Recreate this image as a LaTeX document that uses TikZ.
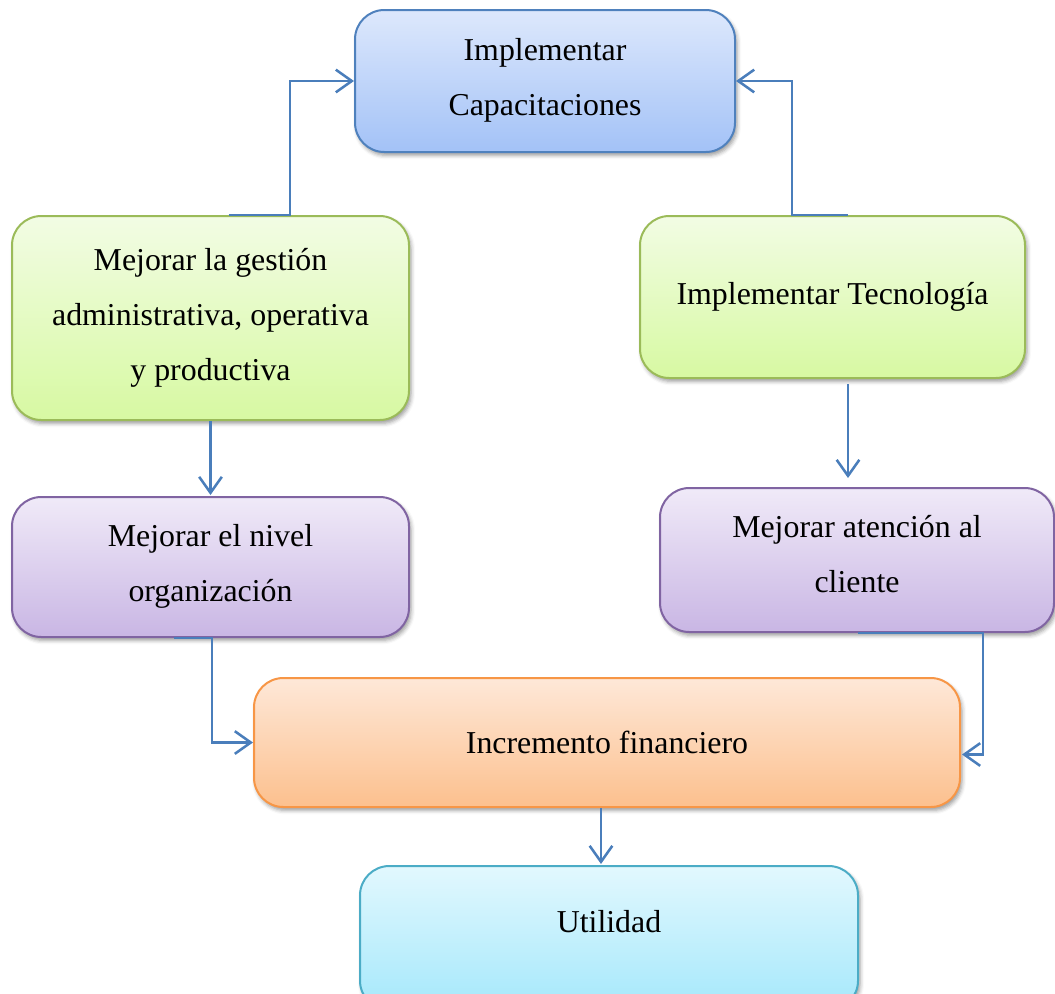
\documentclass[tikz,border=0pt]{standalone}
\usepackage{fontspec}
\setmainfont{Liberation Serif}
\usetikzlibrary{arrows.meta,calc,shadows.blur}

\definecolor{connblue}{HTML}{4A7EBB}
\definecolor{bluetop}{HTML}{DDE8FC}
\definecolor{bluebot}{HTML}{A3C2F7}
\definecolor{blueedge}{HTML}{4F81BD}
\definecolor{greentop}{HTML}{F2FCE4}
\definecolor{greenbot}{HTML}{D7F9A2}
\definecolor{greenedge}{HTML}{9BBB59}
\definecolor{purpletop}{HTML}{F0EAF8}
\definecolor{purplebot}{HTML}{C9B6E4}
\definecolor{purpleedge}{HTML}{8064A2}
\definecolor{orangetop}{HTML}{FEE8D8}
\definecolor{orangebot}{HTML}{FCC08E}
\definecolor{orangeedge}{HTML}{F79646}
\definecolor{cyantop}{HTML}{E2F8FE}
\definecolor{cyanbot}{HTML}{A5E8FB}
\definecolor{cyanedge}{HTML}{4BACC6}

\tikzset{
  box/.style={rounded corners=22pt, line width=1.5pt, inner sep=0pt,
    align=center, font=\fontsize{23.9}{41.25}\selectfont,
    blur shadow={shadow xshift=1.5pt, shadow yshift=-2.5pt,
      shadow blur radius=3pt, shadow opacity=40}},
  bluebox/.style={box, draw=blueedge, top color=bluetop, bottom color=bluebot},
  greenbox/.style={box, draw=greenedge, top color=greentop, bottom color=greenbot},
  purplebox/.style={box, draw=purpleedge, top color=purpletop, bottom color=purplebot},
  orangebox/.style={box, draw=orangeedge, top color=orangetop, bottom color=orangebot},
  cyanbox/.style={box, draw=cyanedge, top color=cyantop, bottom color=cyanbot},
  label text/.style={inner sep=0pt, font=\fontsize{23.9}{41.25}\selectfont},
  conn/.style={draw=connblue, line width=1.9pt,
    -{Straight Barb[length=12pt, width=17pt, line width=1.9pt]}},
}

\begin{document}
\begin{tikzpicture}[x=0.75pt, y=-0.75pt]
\useasboundingbox (0,0) rectangle (1055,993);
\clip (0,0) rectangle (1055,993);

% boxes
\node[bluebox, minimum width=285pt, minimum height=106.5pt, text depth=6pt] (cap) at (545,81)
  {Implementar\\Capacitaciones};
\node[greenbox, minimum width=297.75pt, minimum height=153pt, text depth=6pt] (gl) at (210.5,318)
  {Mejorar la gestión\\administrativa, operativa\\y productiva};
\node[greenbox, minimum width=288.75pt, minimum height=121.5pt] (gr) at (832.5,297)
  {Implementar Tecnología};
\node[purplebox, minimum width=297.75pt, minimum height=105pt, text depth=6pt] (pl) at (210.5,567)
  {Mejorar el nivel\\organización};
\node[purplebox, minimum width=295.5pt, minimum height=108pt, text depth=9pt] (pr) at (857,560)
  {Mejorar atención al\\cliente};
\node[orangebox, minimum width=529.5pt, minimum height=96.75pt] (inc) at (607,742.5)
  {Incremento financiero};
\node[cyanbox, minimum width=373.5pt, minimum height=108pt] (util) at (609,938) {};
\node[label text] (utilT) at (609,922) {Utilidad};

% connectors
\draw[conn] ($(gl.north)+(18,0)$) -| ($(cap.west)+(-64,0)$) -- (cap.west);
\draw[conn] ($(gr.north)+(15.5,0)$) -| ($(cap.east)+(56,0)$) -- (cap.east);
\draw[conn] (gl.south) -- ($(pl.north)+(0,-1)$);
\draw[conn] ($(gr.south)+(15.5,5)$) -- ($(pr.north)+(-9,-9)$);
\draw[conn] ($(pl.south)+(-37,0)$) -| ($(inc.west)+(-41,0)$) -- (inc.west);
\draw[conn] ($(pr.south)+(1,0)$) -| ($(inc.east)+(22,12)$) -- ($(inc.east)+(1,12)$);
\draw[conn] ($(inc.south)+(-6,0)$) -- ($(util.north)+(-8,-1)$);
\end{tikzpicture}
\end{document}
